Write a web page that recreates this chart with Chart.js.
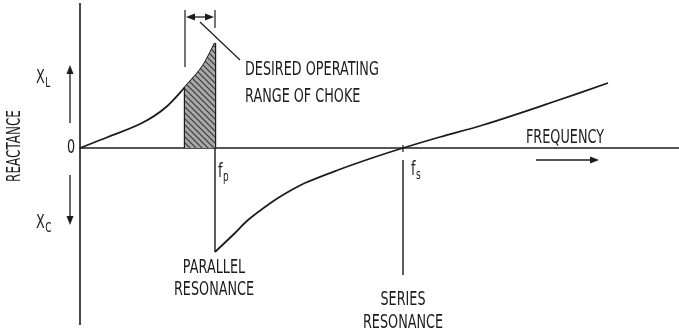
<!DOCTYPE html>
<html>
<head>
<meta charset="utf-8">
<script src="https://cdn.jsdelivr.net/npm/chart.js@4"></script>
<style>
  body { margin: 0; background: #fff; }
  canvas { display: block; }
</style>
</head>
<body>
<canvas id="myChart" width="679" height="331"></canvas>
<script>
// reactance curve below parallel resonance (inductive)
const inductiveX = [0, 2.8, 6.2, 8.5, 10.5, 12.2, 13.5];
const inductiveY = [0, 1.1, 2.5, 4.0, 6.1, 8.1, 10.5];

// above parallel resonance (capacitive, crosses zero at series resonance)
const capacitiveX = [13.5, 15.5, 16.8, 19.2, 20.8, 22.5, 25.8, 29.2, 32.3, 36, 40.3, 47, 52.8];
const capacitiveY = [-10.4, -8.5, -7.2, -5.4, -4.4, -3.5, -2.2, -1.0, 0, 1.1, 2.3, 4.5, 6.5];

const shadeStart = 10.5;
const fp = 13.5;
const fs = 32.3;

const ink = '#1c1c1c';
const TENSION = 0.35;

const toPoints = (xs, ys) => xs.map((x, i) => ({ x: x, y: ys[i] }));

const curve = toPoints(inductiveX, inductiveY);
const shaded = curve.filter((p) => p.x >= shadeStart);
const yAt = (x) => inductiveY[inductiveX.indexOf(x)];

const hatch = (() => {
  const c = document.createElement('canvas');
  c.width = 6;
  c.height = 6;
  const g = c.getContext('2d');
  g.fillStyle = '#a8a8a8';
  g.fillRect(0, 0, 6, 6);
  g.strokeStyle = '#3a3a3a';
  g.lineWidth = 1.2;
  g.beginPath();
  g.moveTo(0, 0); g.lineTo(6, 6);
  g.moveTo(-3, 3); g.lineTo(3, 9);
  g.moveTo(3, -3); g.lineTo(9, 3);
  g.stroke();
  return g.createPattern(c, 'repeat');
})();

const seg = (pts, width) => ({
  data: pts,
  showLine: true,
  borderColor: ink,
  borderWidth: width,
  pointRadius: 0,
  tension: 0,
  fill: false,
});

const smooth = (pts) => ({
  data: pts,
  showLine: true,
  borderColor: ink,
  borderWidth: 1.8,
  pointRadius: 0,
  tension: TENSION,
  fill: false,
});

const datasets = [
  {
    data: shaded,
    showLine: true,
    borderWidth: 0,
    pointRadius: 0,
    tension: TENSION,
    backgroundColor: hatch,
    fill: 'origin',
  },
  // axes
  seg([{ x: 0, y: 14.5 }, { x: 0, y: -17.7 }], 1.6),
  seg([{ x: 0, y: 0 }, { x: 59.9, y: 0 }], 1.3),
  // resonance markers and bracket lines
  seg([{ x: fp, y: yAt(fp) }, { x: fp, y: capacitiveY[0] }], 1.4),
  seg([{ x: shadeStart, y: 0 }, { x: shadeStart, y: yAt(shadeStart) }], 2.4),
  seg([{ x: fp, y: 0 }, { x: fp, y: yAt(fp) }], 2.4),
  seg([{ x: shadeStart, y: 13.8 }, { x: shadeStart, y: 8.1 }], 1.2),
  seg([{ x: fp, y: 13.8 }, { x: fp, y: 12.0 }], 1.2),
  seg([{ x: fs, y: -1.2 }, { x: fs, y: -12.7 }], 1.4),
  seg([{ x: fs, y: 0.3 }, { x: fs, y: -0.4 }], 1.2),
  seg([{ x: 12, y: 12.6 }, { x: 16, y: 8.8 }], 1.2),
  // reactance curves
  smooth(curve),
  smooth(toPoints(capacitiveX, capacitiveY)),
];

const labels = [
  { text: 'DESIRED OPERATING', x: 16.5, y: 7.3, align: 'left' },
  { text: 'RANGE OF CHOKE', x: 16.5, y: 4.6, align: 'left' },
  { text: 'FREQUENCY', x: 44.6, y: 0.5, align: 'left' },
  { text: 'PARALLEL', x: 13.4, y: -12.5, align: 'center' },
  { text: 'RESONANCE', x: 13.4, y: -14.7, align: 'center' },
  { text: 'SERIES', x: 32.3, y: -15.7, align: 'center' },
  { text: 'RESONANCE', x: 32.3, y: -18.0, align: 'center' },
  { text: '0', x: -0.9, y: -0.5, align: 'center' },
];

const subLabels = [
  { main: 'X', sub: 'L', x: -4.4, y: 6.5 },
  { main: 'X', sub: 'C', x: -4.4, y: -8.0 },
  { main: 'f', sub: 'p', x: 13.8, y: -2.9 },
  { main: 'f', sub: 's', x: 33.1, y: -2.7 },
];

const arrows = [
  [-1, 2.5, -1, 8.3],
  [-1, -2.7, -1, -7.7],
  [45.6, -1.2, 51.9, -1.2],
  [12, 13.1, 10.6, 13.1],
  [12, 13.1, 13.4, 13.1],
];

const FONT = '20px "DejaVu Sans"';
const SQUEEZE = 0.64;

const annotate = {
  id: 'annotate',
  afterDatasetsDraw(chart) {
    const { ctx, scales } = chart;
    const px = (v) => scales.x.getPixelForValue(v);
    const py = (v) => scales.y.getPixelForValue(v);

    ctx.save();
    ctx.fillStyle = ink;
    ctx.strokeStyle = ink;
    ctx.textBaseline = 'alphabetic';

    const squeezed = (text, x, y, align, font) => {
      ctx.save();
      ctx.font = font || FONT;
      ctx.translate(x, y);
      ctx.scale(SQUEEZE, 1);
      const w = ctx.measureText(text).width;
      const off = align === 'center' ? -w / 2 : 0;
      ctx.fillText(text, off, 0);
      ctx.restore();
      return w * SQUEEZE;
    };

    labels.forEach((l) => squeezed(l.text, px(l.x), py(l.y), l.align));

    subLabels.forEach((l) => {
      const w = squeezed(l.main, px(l.x), py(l.y), 'left');
      squeezed(l.sub, px(l.x) + w + 0.5, py(l.y) + 4, 'left', '14px "DejaVu Sans"');
    });

    // vertical axis title
    ctx.save();
    ctx.font = FONT;
    ctx.translate(px(-6.5), py(0.2));
    ctx.rotate(-Math.PI / 2);
    ctx.scale(0.6, 1);
    ctx.textAlign = 'center';
    ctx.textBaseline = 'middle';
    ctx.fillText('REACTANCE', 0, 0);
    ctx.restore();

    arrows.forEach(([x1, y1, x2, y2]) => {
      const ax = px(x1), ay = py(y1), bx = px(x2), by = py(y2);
      const ang = Math.atan2(by - ay, bx - ax);
      const len = 9, half = 3.5;
      ctx.lineWidth = 1.3;
      ctx.beginPath();
      ctx.moveTo(ax, ay);
      ctx.lineTo(bx - Math.cos(ang) * len * 0.6, by - Math.sin(ang) * len * 0.6);
      ctx.stroke();
      ctx.beginPath();
      ctx.moveTo(bx, by);
      ctx.lineTo(bx - Math.cos(ang) * len - Math.sin(ang) * half, by - Math.sin(ang) * len + Math.cos(ang) * half);
      ctx.lineTo(bx - Math.cos(ang) * len + Math.sin(ang) * half, by - Math.sin(ang) * len - Math.cos(ang) * half);
      ctx.closePath();
      ctx.fill();
    });

    ctx.restore();
  },
};

const ctx = document.getElementById('myChart').getContext('2d');
const myChart = new Chart(ctx, {
  type: 'scatter',
  data: { datasets: datasets },
  options: {
    responsive: false,
    animation: false,
    layout: { padding: 0 },
    plugins: { legend: { display: false }, tooltip: { enabled: false } },
    scales: {
      x: { type: 'linear', display: false, min: -8, max: 59.9 },
      y: { type: 'linear', display: false, min: -18.3, max: 14.8 },
    },
  },
  plugins: [annotate],
});
</script>
</body>
</html>
